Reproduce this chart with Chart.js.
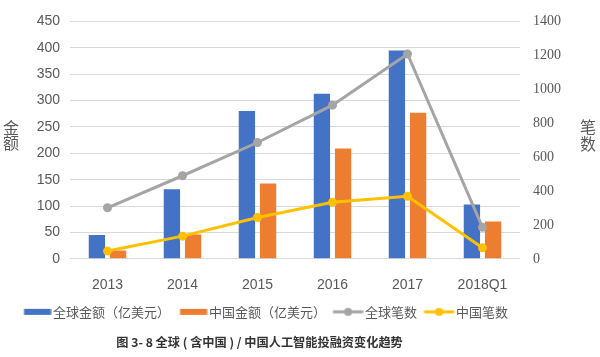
<!DOCTYPE html>
<html><head><meta charset="utf-8">
<script src="https://cdn.jsdelivr.net/npm/chart.js@4/dist/chart.umd.min.js"></script>
<style>html,body{margin:0;padding:0;background:#fff;}#wrap{width:600px;height:357px;position:relative;}</style>
</head><body><div id="wrap"><canvas id="c" width="600" height="357"></canvas></div>
<script>
const categories = ['2013','2014','2015','2016','2017','2018Q1'];
const globalAmount = [45, 132, 280, 313, 395, 103];
const chinaAmount = [16, 46, 143, 209, 277, 71];
const globalCount = [301, 490, 686, 906, 1208, 186];
const chinaCount = [46, 134, 244, 334, 369, 65];
const seriesNames = ['全球金额（亿美元）','中国金额（亿美元）','全球笔数','中国笔数'];
const leftTitle = ['金','额'];
const rightTitle = ['笔','数'];
const caption = '图 3- 8 全球 ( 含中国 ) / 中国人工智能投融资变化趋势';
const colors = ['#4472C4','#ED7D31','#A5A5A5','#FFC000'];

function legendImage(color, isLine){
  const cv = document.createElement('canvas');
  cv.width = 36; cv.height = 12;
  const g = cv.getContext('2d');
  if (isLine){
    g.strokeStyle = color; g.lineWidth = 3;
    g.beginPath(); g.moveTo(5.5,6); g.lineTo(35.5,6); g.stroke();
    g.fillStyle = color; g.beginPath(); g.arc(20.5,6,4,0,Math.PI*2); g.fill();
  } else {
    g.fillStyle = color; g.fillRect(8.5,3,27,6);
  }
  return cv;
}

const customLayout = {
  id: 'customLayout',
  afterLayout(chart){
    if (chart.legend){ chart.legend.left = 14; }
    if (chart.titleBlock){ chart.titleBlock.left = 0; chart.titleBlock.right = 519; }
  },
  afterDraw(chart){
    const ctx = chart.ctx;
    ctx.save();
    ctx.font = '16px "Noto Sans CJK SC"';
    ctx.fillStyle = '#595959';
    ctx.textAlign = 'center'; ctx.textBaseline = 'middle';
    ctx.fillText(leftTitle[0], 11, 128);
    ctx.fillText(leftTitle[1], 11, 143);
    ctx.fillText(rightTitle[0], 588, 127);
    ctx.fillText(rightTitle[1], 588, 144);
    ctx.restore();
  }
};

new Chart(document.getElementById('c'), {
  data: {
    labels: categories,
    datasets: [
      {type:'bar', label: seriesNames[0], data: globalAmount, backgroundColor: colors[0], yAxisID:'y', order:2,
       categoryPercentage:0.565, barPercentage:0.77},
      {type:'bar', label: seriesNames[1], data: chinaAmount, backgroundColor: colors[1], yAxisID:'y', order:2,
       categoryPercentage:0.565, barPercentage:0.77},
      {type:'line', label: seriesNames[2], data: globalCount, borderColor: colors[2], backgroundColor: colors[2],
       borderWidth:3, pointRadius:4.5, pointBorderWidth:0, yAxisID:'y1', order:1, tension:0},
      {type:'line', label: seriesNames[3], data: chinaCount, borderColor: colors[3], backgroundColor: colors[3],
       borderWidth:3, pointRadius:4.5, pointBorderWidth:0, yAxisID:'y1', order:1, tension:0}
    ]
  },
  options: {
    responsive:false, animation:false,
    layout:{padding:{top:15,left:0,right:0,bottom:0}},
    plugins:{
      tooltip:{enabled:false},
      legend:{
        position:'bottom', align:'start',
        labels:{
          usePointStyle:true, pointStyleWidth:26, padding:6.5,
          font:{family:'"Noto Sans CJK SC"', size:13}, color:'#595959',
          generateLabels(chart){
            return chart.data.datasets.map((ds,i)=>({
              text: ds.label, pointStyle: legendImage(ds.borderColor || ds.backgroundColor, ds.type==='line'),
              fontColor:'#595959', hidden:false, datasetIndex:i, lineWidth:0,
              strokeStyle:'transparent', fillStyle:'transparent'
            }));
          }
        }
      },
      title:{
        display:true, position:'bottom', text: caption, color:'#333333',
        font:{family:'"Noto Sans CJK SC"', size:12.2, weight:'bold'},
        padding:{top:7,bottom:7}
      }
    },
    scales:{
      x:{
        grid:{display:false}, border:{display:false},
        ticks:{color:'#595959', font:{family:'"Liberation Sans"', size:14}, padding:10},
        afterFit(s){ s.height = 40; }
      },
      y:{
        position:'left', min:0, max:450,
        grid:{color:'#d9d9d9', drawTicks:false}, border:{display:false},
        ticks:{stepSize:50, color:'#595959', font:{family:'"Liberation Sans"', size:14}, padding:10},
        afterFit(s){ s.width = 70; }
      },
      y1:{
        position:'right', min:0, max:1400,
        grid:{display:false, drawTicks:false}, border:{display:false},
        ticks:{stepSize:200, color:'#595959', font:{family:'"Liberation Serif"', size:14}, padding:13,
               format:{useGrouping:false}},
        afterFit(s){ s.width = 80; }
      }
    }
  },
  plugins:[customLayout]
});
</script></body></html>
